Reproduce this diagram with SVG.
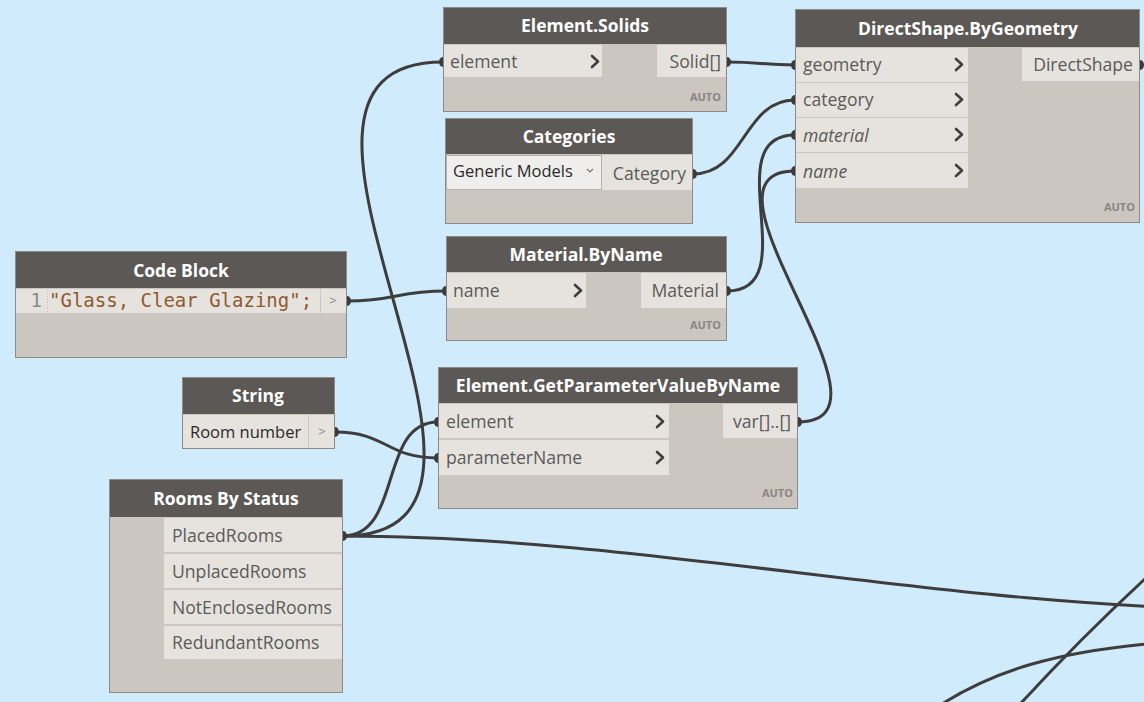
<svg xmlns="http://www.w3.org/2000/svg" width="1144" height="702" viewBox="0 0 1144 702">
  <style>
    .bg { fill: #d0ebfb; }
    .body { fill: #cbc7c0; stroke: #8e8a85; stroke-width: 1; }
    .hdr { fill: #5b5856; }
    .title { font-family: "Open Sans", "Liberation Sans", sans-serif; font-size: 17.5px; font-weight: bold; fill: #ffffff; text-anchor: middle; }
    .row { fill: #e6e3de; }
    .lbl { font-family: "Open Sans", "Liberation Sans", sans-serif; font-size: 17.6px; fill: #5a5a5a; }
    .val { font-family: "Open Sans", "Liberation Sans", sans-serif; font-size: 16.5px; fill: #2a2a2a; }
    .it { font-style: italic; }
    .out { text-anchor: end; }
    .auto { font-family: "Open Sans", "Liberation Sans", sans-serif; font-size: 11px; font-weight: bold; fill: #8a8580; text-anchor: end; }
    .chev { fill: none; stroke: #3f3f3f; stroke-width: 2.6; stroke-linecap: round; stroke-linejoin: round; }
    .wire { fill: none; stroke: #3d3d3d; stroke-width: 3; }
    .nub { fill: #3b3b3b; }
    .code { font-family: "DejaVu Sans Mono", "Liberation Mono", monospace; font-size: 19px; fill: #8f5a30; }
    .lineno { font-family: "DejaVu Sans Mono", "Liberation Mono", monospace; font-size: 19px; fill: #8a8a8a; text-anchor: end; }
    .small { font-family: "Open Sans", "Liberation Sans", sans-serif; font-size: 13px; fill: #888888; text-anchor: middle; }
  </style>

  <rect class="bg" x="0" y="0" width="1144" height="702"/>

  <!-- connectors -->
  <g id="wires">
    <path class="wire" d="M347,301 C397,301 396,291 446,291"/>
    <path class="wire" d="M693,174 C745,174 743,100 795,100"/>
    <path class="wire" d="M727,62 C761,62 761,65 795,65"/>
    <path class="wire" d="M727,291 C807,291 715,135 795,135"/>
    <path class="wire" d="M798,422 C913,422 680,171 795,171"/>
    <path class="wire" d="M343,536 C575,536 211,62 443,62"/>
    <path class="wire" d="M343,536 C403,536 378,422 438,422"/>
    <path class="wire" d="M335,432 C387,432 386,458 438,458"/>
    <path class="wire" d="M343,536 C643,536 950,609 1250,609"/>
    <path class="wire" d="M1012,713 C1060,660 1110,610 1170,556"/>
    <path class="wire" d="M930,712 C990,670 1060,650 1170,642"/>
  </g>

  <!-- port nubs -->
  <g id="ports">
    <ellipse class="nub" cx="443" cy="62" rx="4" ry="5"/>
    <ellipse class="nub" cx="727" cy="62" rx="4" ry="5"/>
    <ellipse class="nub" cx="693" cy="174" rx="4" ry="5"/>
    <ellipse class="nub" cx="795" cy="65" rx="4" ry="5"/>
    <ellipse class="nub" cx="795" cy="100" rx="4" ry="5"/>
    <ellipse class="nub" cx="795" cy="135" rx="4" ry="5"/>
    <ellipse class="nub" cx="795" cy="171" rx="4" ry="5"/>
    <ellipse class="nub" cx="1140" cy="65" rx="4" ry="5"/>
    <ellipse class="nub" cx="347" cy="301" rx="4" ry="5"/>
    <ellipse class="nub" cx="446" cy="291" rx="4" ry="5"/>
    <ellipse class="nub" cx="727" cy="291" rx="4" ry="5"/>
    <ellipse class="nub" cx="438" cy="422" rx="4" ry="5"/>
    <ellipse class="nub" cx="438" cy="458" rx="4" ry="5"/>
    <ellipse class="nub" cx="798" cy="422" rx="4" ry="5"/>
    <ellipse class="nub" cx="335" cy="432" rx="4" ry="5"/>
    <ellipse class="nub" cx="343" cy="536" rx="4" ry="5"/>
  </g>

  <!-- Element.Solids -->
  <g id="element-solids">
    <rect class="body" x="443.5" y="7.5" width="283" height="104"/>
    <rect class="hdr" x="444" y="8" width="282" height="36"/>
    <text class="title" x="585" y="32">Element.Solids</text>
    <rect class="row" x="444" y="45" width="158" height="32"/>
    <text class="lbl" x="450" y="68">element</text>
    <polyline class="chev" points="592,56 598,61.5 592,67"/>
    <rect class="row" x="657" y="45" width="69" height="32"/>
    <text class="lbl out" x="721" y="68">Solid[]</text>
    <text class="auto" x="721" y="101">AUTO</text>
  </g>

  <!-- Categories -->
  <g id="categories">
    <rect class="body" x="445.5" y="118.5" width="247" height="105"/>
    <rect class="hdr" x="446" y="119" width="246" height="35"/>
    <text class="title" x="569" y="143">Categories</text>
    <rect x="446.5" y="155.5" width="155" height="34" fill="#efeeec" stroke="#b5b1ab" stroke-width="1"/>
    <text class="val" x="453" y="177">Generic Models</text>
    <polyline points="587,169 590,172 593,169" fill="none" stroke="#777" stroke-width="1.2"/>
    <rect class="row" x="602" y="155" width="90" height="35"/>
    <text class="lbl out" x="686" y="180">Category</text>
  </g>

  <!-- DirectShape.ByGeometry -->
  <g id="directshape-bygeometry">
    <rect class="body" x="795.5" y="9.5" width="344" height="213"/>
    <rect class="hdr" x="796" y="10" width="343" height="37"/>
    <text class="title" x="968" y="35">DirectShape.ByGeometry</text>
    <rect class="row" x="796" y="48" width="172" height="34"/>
    <text class="lbl" x="803" y="71">geometry</text>
    <polyline class="chev" points="956,59 962,64.5 956,70"/>
    <rect class="row" x="796" y="83" width="172" height="34"/>
    <text class="lbl" x="803" y="106">category</text>
    <polyline class="chev" points="956,94 962,99.5 956,105"/>
    <rect class="row" x="796" y="118" width="172" height="34"/>
    <text class="lbl it" x="803" y="142">material</text>
    <polyline class="chev" points="956,129 962,134.5 956,140"/>
    <rect class="row" x="796" y="153" width="172" height="35"/>
    <text class="lbl it" x="803" y="178">name</text>
    <polyline class="chev" points="956,165 962,170.5 956,176"/>
    <rect class="row" x="1022" y="48" width="117" height="33"/>
    <text class="lbl out" x="1133" y="71">DirectShape</text>
    <text class="auto" x="1135" y="211">AUTO</text>
  </g>

  <!-- Code Block -->
  <g id="code-block">
    <rect class="body" x="15.5" y="251.5" width="331" height="106"/>
    <rect class="hdr" x="16" y="252" width="330" height="36"/>
    <text class="title" x="181" y="277">Code Block</text>
    <rect class="row" x="16" y="289" width="304" height="24"/>
    <line x1="47.5" y1="290" x2="47.5" y2="312" stroke="#bbb" stroke-width="1" stroke-dasharray="1,2"/>
    <text class="lineno" x="42" y="307">1</text>
    <text class="code" x="49" y="307">"Glass, Clear Glazing";</text>
    <rect class="row" x="321" y="289" width="25" height="24"/>
    <text class="small" x="333" y="305">&gt;</text>
  </g>

  <!-- Material.ByName -->
  <g id="material-byname">
    <rect class="body" x="446.5" y="236.5" width="280" height="104"/>
    <rect class="hdr" x="447" y="237" width="279" height="35"/>
    <text class="title" x="586" y="261">Material.ByName</text>
    <rect class="row" x="447" y="273" width="139" height="35"/>
    <text class="lbl" x="453" y="297">name</text>
    <polyline class="chev" points="575,285 581,290.5 575,296"/>
    <rect class="row" x="641" y="273" width="85" height="35"/>
    <text class="lbl out" x="719" y="297">Material</text>
    <text class="auto" x="721" y="329">AUTO</text>
  </g>

  <!-- Element.GetParameterValueByName -->
  <g id="element-getparametervaluebyname">
    <rect class="body" x="438.5" y="367.5" width="359" height="141"/>
    <rect class="hdr" x="439" y="368" width="358" height="35"/>
    <text class="title" x="618" y="392">Element.GetParameterValueByName</text>
    <rect class="row" x="439" y="404" width="230" height="34"/>
    <text class="lbl" x="446" y="428">element</text>
    <polyline class="chev" points="657,416 663,421.5 657,427"/>
    <rect class="row" x="439" y="440" width="230" height="35"/>
    <text class="lbl" x="446" y="464">parameterName</text>
    <polyline class="chev" points="657,452 663,457.5 657,463"/>
    <rect class="row" x="723" y="404" width="74" height="34"/>
    <text class="lbl out" x="791" y="428">var[]..[]</text>
    <text class="auto" x="793" y="497">AUTO</text>
  </g>

  <!-- String -->
  <g id="string">
    <rect class="body" x="182.5" y="377.5" width="152" height="71"/>
    <rect class="hdr" x="183" y="378" width="151" height="36"/>
    <text class="title" x="258" y="402">String</text>
    <rect class="row" x="183" y="415" width="125" height="33"/>
    <text class="val" x="190" y="438">Room number</text>
    <rect class="row" x="309" y="415" width="25" height="33"/>
    <text class="small" x="322" y="436">&gt;</text>
  </g>

  <!-- Rooms By Status -->
  <g id="rooms-by-status">
    <rect class="body" x="109.5" y="479.5" width="233" height="213"/>
    <rect class="hdr" x="110" y="480" width="232" height="37"/>
    <text class="title" x="226" y="505">Rooms By Status</text>
    <rect class="row" x="164" y="518" width="178" height="34"/>
    <text class="lbl" x="172" y="542">PlacedRooms</text>
    <rect class="row" x="164" y="554" width="178" height="34"/>
    <text class="lbl" x="172" y="578">UnplacedRooms</text>
    <rect class="row" x="164" y="590" width="178" height="34"/>
    <text class="lbl" x="172" y="614">NotEnclosedRooms</text>
    <rect class="row" x="164" y="626" width="178" height="33"/>
    <text class="lbl" x="172" y="649">RedundantRooms</text>
  </g>
</svg>
